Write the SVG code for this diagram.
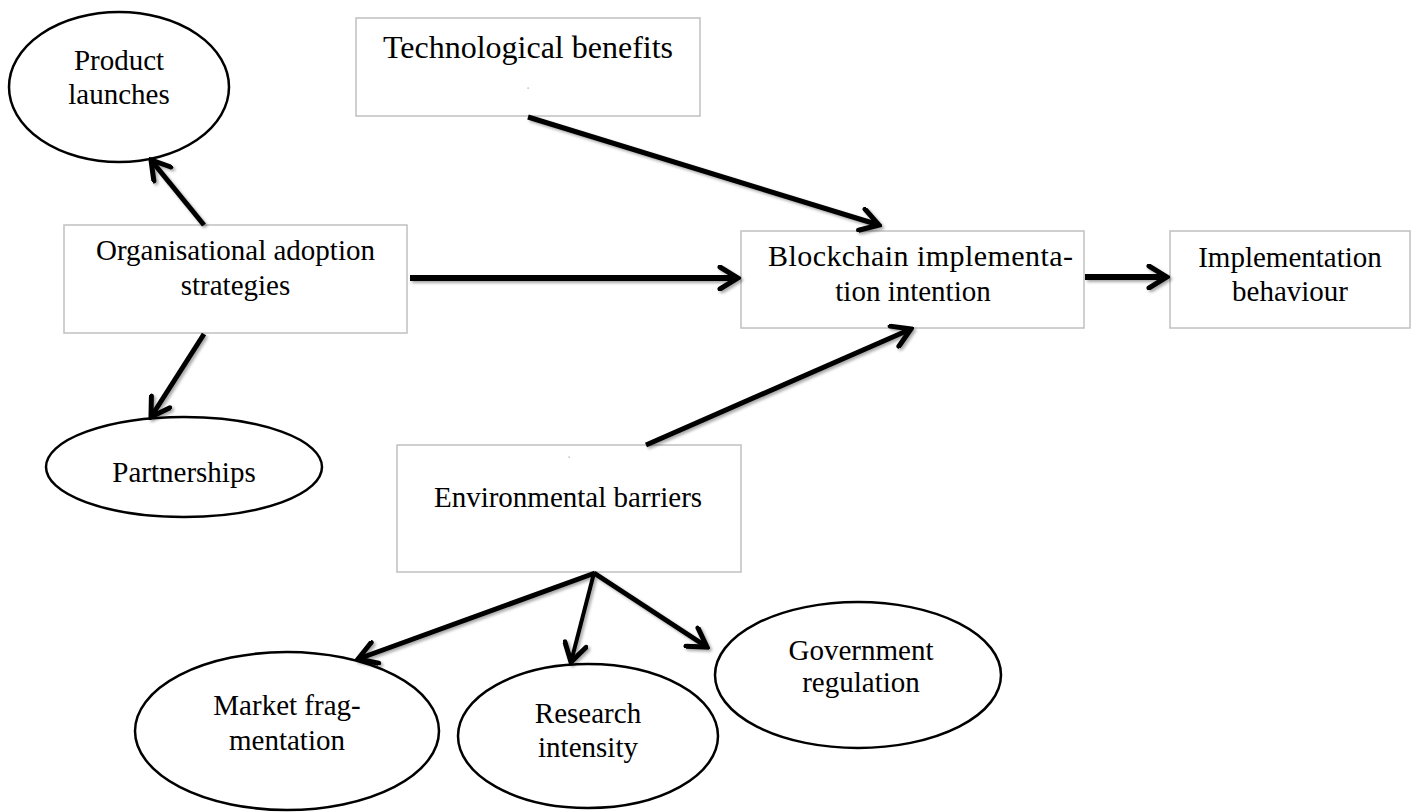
<svg xmlns="http://www.w3.org/2000/svg" width="1416" height="812" viewBox="0 0 1416 812">
  <style>
    .box { fill: #ffffff; stroke: #c0c0c0; stroke-width: 1.5; }
    .oval { fill: #ffffff; stroke: #000000; stroke-width: 2.5; }
    .lbl { font-family: "Liberation Serif", "Times New Roman", serif; font-size: 29px; fill: #000000; text-anchor: middle; }
    .wire { stroke: #000000; stroke-width: 5; fill: none; marker-end: url(#head); }
    .speck { fill: #9a9a9a; }
  </style>
  <defs>
    <filter id="shade" x="-10%" y="-10%" width="130%" height="130%">
      <feDropShadow dx="2" dy="2" stdDeviation="1.5" flood-color="#000000" flood-opacity="0.35"/>
    </filter>
    <marker id="head" viewBox="0 0 24 26" refX="21" refY="13" markerWidth="24" markerHeight="26" markerUnits="userSpaceOnUse" orient="auto">
      <path d="M3,2 L21,13 L3,24" fill="none" stroke="#000000" stroke-width="5" stroke-linecap="round" stroke-linejoin="miter"/>
    </marker>
  </defs>

  <rect width="1416" height="812" fill="#ffffff"/>

  <!-- boxes and ovals -->
  <g id="product-launches">
    <ellipse class="oval" cx="119" cy="87" rx="110" ry="75"/>
    <text class="lbl" x="119" y="70">Product</text>
    <text class="lbl" x="119" y="104">launches</text>
  </g>

  <g id="technological-benefits">
    <rect class="box" x="356" y="18" width="344" height="98"/>
    <text class="lbl" x="528" y="58" style="font-size:32px">Technological benefits</text>
    <rect class="speck" x="527.5" y="87.5" width="1.2" height="1.2"/>
  </g>

  <g id="organisational-adoption">
    <rect class="box" x="64" y="225" width="343" height="108"/>
    <text class="lbl" x="235.5" y="260">Organisational adoption</text>
    <text class="lbl" x="235.5" y="295">strategies</text>
  </g>

  <g id="blockchain-intention">
    <rect class="box" x="741" y="231" width="343" height="97"/>
    <text class="lbl" x="768" y="266" style="font-size:30px;text-anchor:start" textLength="305" lengthAdjust="spacing">Blockchain implementa-</text>
    <text class="lbl" x="913" y="301">tion intention</text>
  </g>

  <g id="implementation-behaviour">
    <rect class="box" x="1170" y="231" width="240" height="97"/>
    <text class="lbl" x="1290" y="267">Implementation</text>
    <text class="lbl" x="1290" y="301">behaviour</text>
  </g>

  <g id="partnerships">
    <ellipse class="oval" cx="184" cy="467" rx="138" ry="50"/>
    <text class="lbl" x="184" y="482">Partnerships</text>
  </g>

  <g id="environmental-barriers">
    <rect class="box" x="397" y="445" width="344" height="127"/>
    <text class="lbl" x="568" y="507">Environmental barriers</text>
    <rect class="speck" x="568.5" y="456.5" width="1.2" height="1.2"/>
  </g>

  <g id="market-fragmentation">
    <ellipse class="oval" cx="287" cy="731" rx="152" ry="79"/>
    <text class="lbl" x="287" y="715">Market frag-</text>
    <text class="lbl" x="287" y="750">mentation</text>
  </g>

  <g id="research-intensity">
    <ellipse class="oval" cx="588" cy="736" rx="130" ry="72"/>
    <text class="lbl" x="588" y="723">Research</text>
    <text class="lbl" x="588" y="757">intensity</text>
  </g>

  <g id="government-regulation">
    <ellipse class="oval" cx="858" cy="675" rx="143" ry="73"/>
    <text class="lbl" x="861" y="660">Government</text>
    <text class="lbl" x="861" y="692">regulation</text>
  </g>

  <!-- connectors -->
  <g id="connectors" filter="url(#shade)">
    <line class="wire" x1="204" y1="225" x2="151" y2="160"/>
    <line class="wire" x1="204" y1="334" x2="151" y2="417"/>
    <line class="wire" x1="410" y1="278" x2="738" y2="278" style="stroke-width:6"/>
    <line class="wire" x1="528" y1="117" x2="879" y2="225"/>
    <line class="wire" x1="646" y1="445" x2="911" y2="329"/>
    <line class="wire" x1="1085" y1="277" x2="1167" y2="277" style="stroke-width:6"/>
    <line class="wire" x1="595" y1="573" x2="358" y2="659"/>
    <line class="wire" x1="594" y1="573" x2="571" y2="662" style="stroke-width:4"/>
    <line class="wire" x1="594" y1="573" x2="707" y2="647"/>
  </g>
</svg>
